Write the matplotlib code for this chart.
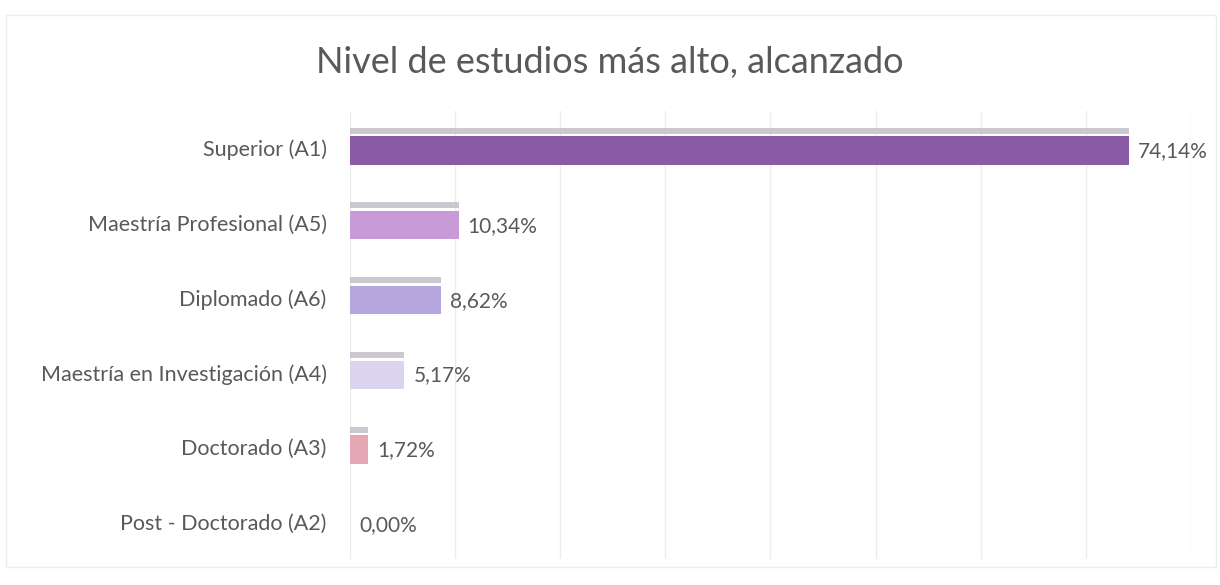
import matplotlib.pyplot as plt
from matplotlib.patches import Rectangle

plt.rcParams['font.family'] = ['Lato', 'DejaVu Sans']

# niveles de estudio (de arriba hacia abajo) y porcentajes
categorias = [
    "Superior (A1)",
    "Maestría Profesional (A5)",
    "Diplomado (A6)",
    "Maestría en Investigación (A4)",
    "Doctorado (A3)",
    "Post - Doctorado (A2)",
]
porcentajes = [74.14, 10.34, 8.62, 5.17, 1.72, 0.00]
etiquetas = ["74,14%", "10,34%", "8,62%", "5,17%", "1,72%", "0,00%"]
colores = ["#8a5aa6", "#c99ad8", "#b6a6de", "#dcd3ef", "#e3a8b4", "#e3a8b4"]

texto = "#595959"

fig = plt.figure(figsize=(12.2, 5.85), dpi=100)
ax = fig.add_axes([0.287, 0.0436, 0.689, 0.767])

y = list(range(len(categorias)))

# franja gris sobre cada barra
ax.barh([v - 0.235 for v in y], porcentajes, height=0.08, color="#c4bfc8",
        alpha=0.85, zorder=2)
ax.barh([v + 0.03 for v in y], porcentajes, height=0.38, color=colores,
        zorder=3)

for yi, v, lab in zip(y, porcentajes, etiquetas):
    ax.text(v + 0.85, yi + 0.04, lab, va="center", ha="left", fontsize=15,
            color=texto)

ax.set_xlim(0, 80)
ax.set_ylim(len(categorias) - 0.5, -0.5)
ax.set_xticks(range(0, 81, 10))
ax.set_xticklabels([])
ax.tick_params(axis="x", length=0)
ax.tick_params(axis="y", length=0, pad=17)
ax.set_yticks(y)
ax.set_yticklabels(categorias, fontsize=15.5, color=texto)
ax.grid(axis="x", color="#ececec", linewidth=1, zorder=0)
for s in ax.spines.values():
    s.set_visible(False)

fig.text(0.5, 0.893, "Nivel de estudios más alto, alcanzado", ha="center",
         va="center", fontsize=26, color=texto)

# marco del gráfico
fig.patches.append(Rectangle((0.005, 0.03), 0.992, 0.945,
                             transform=fig.transFigure, fill=False,
                             edgecolor="#ededed", linewidth=1))

plt.savefig("out.png", dpi=100)
